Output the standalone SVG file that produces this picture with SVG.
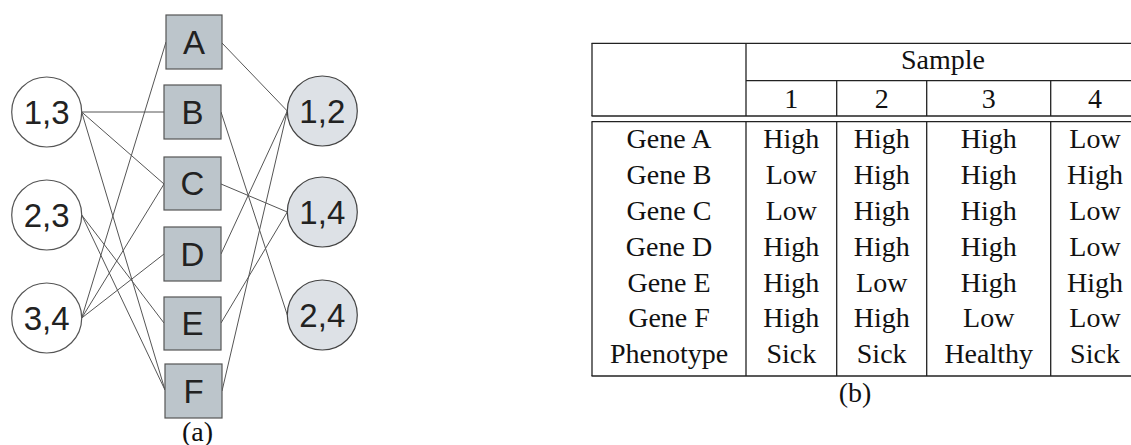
<svg xmlns="http://www.w3.org/2000/svg" width="1131" height="445" viewBox="0 0 1131 445">
<style>
.box{fill:#bcc5cb;stroke:#555;stroke-width:1.2}
.lc{fill:#fff;stroke:#555;stroke-width:1.2}
.rc{fill:#dde1e6;stroke:#444;stroke-width:1.2}
.gt{font-family:"Liberation Sans",Arial,sans-serif;font-size:33px;fill:#222;text-anchor:middle}
.edge{stroke:#555;stroke-width:1;fill:none}
.tl{stroke:#222;stroke-width:1.3;fill:none}
.tt{font-family:"Liberation Serif","Times New Roman",serif;font-size:28px;fill:#111;text-anchor:middle}
</style>
<rect width="1131" height="445" fill="#fff"/>
<g id="connectors">
<line class="edge" x1="81.7" y1="112" x2="164" y2="112"/>
<line class="edge" x1="81.7" y1="112" x2="164" y2="184"/>
<line class="edge" x1="81.7" y1="112" x2="165" y2="390"/>
<line class="edge" x1="81.7" y1="215" x2="164" y2="323"/>
<line class="edge" x1="81.7" y1="215" x2="165" y2="390"/>
<line class="edge" x1="81.7" y1="318" x2="166" y2="42"/>
<line class="edge" x1="81.7" y1="318" x2="164" y2="184"/>
<line class="edge" x1="81.7" y1="318" x2="164" y2="254"/>
<line class="edge" x1="222" y1="43" x2="287.3" y2="111"/>
<line class="edge" x1="221" y1="112" x2="287.3" y2="315"/>
<line class="edge" x1="221" y1="184" x2="287.3" y2="212"/>
<line class="edge" x1="221" y1="254" x2="287.3" y2="111"/>
<line class="edge" x1="221" y1="323" x2="287.3" y2="212"/>
<line class="edge" x1="222" y1="391" x2="287.3" y2="111"/>
</g>
<g id="n13"><circle class="lc" cx="46.7" cy="112" r="35"/><text class="gt" x="46.7" y="124">1,3</text></g>
<g id="n23"><circle class="lc" cx="46.7" cy="215" r="35"/><text class="gt" x="46.7" y="227">2,3</text></g>
<g id="n34"><circle class="lc" cx="46.7" cy="318" r="35"/><text class="gt" x="46.7" y="330">3,4</text></g>
<g id="gA"><rect class="box" x="166" y="15" width="56" height="54"/><text class="gt" x="194" y="54">A</text></g>
<g id="gB"><rect class="box" x="164" y="85" width="57" height="54"/><text class="gt" x="192.5" y="124">B</text></g>
<g id="gC"><rect class="box" x="164" y="157" width="57" height="53"/><text class="gt" x="192.5" y="195">C</text></g>
<g id="gD"><rect class="box" x="164" y="227" width="57" height="54"/><text class="gt" x="192.5" y="266">D</text></g>
<g id="gE"><rect class="box" x="164" y="297" width="57" height="53"/><text class="gt" x="192.5" y="335">E</text></g>
<g id="gF"><rect class="box" x="165" y="364" width="57" height="54"/><text class="gt" x="193.5" y="403">F</text></g>
<g id="n12"><circle class="rc" cx="322.3" cy="111" r="35"/><text class="gt" x="322.3" y="123">1,2</text></g>
<g id="n14"><circle class="rc" cx="322.3" cy="212" r="35"/><text class="gt" x="322.3" y="224">1,4</text></g>
<g id="n24"><circle class="rc" cx="322.3" cy="315" r="35"/><text class="gt" x="322.3" y="327">2,4</text></g>
<text class="tt" x="197.5" y="441">(a)</text>
<g id="table">
<line class="tl" x1="591.5" y1="43.3" x2="1131" y2="43.3"/>
<line class="tl" x1="746" y1="80.7" x2="1131" y2="80.7"/>
<line class="tl" x1="591.5" y1="116" x2="1131" y2="116"/>
<line class="tl" x1="591.5" y1="121.7" x2="1131" y2="121.7"/>
<line class="tl" x1="591.5" y1="376" x2="1131" y2="376"/>
<line class="tl" x1="592" y1="43.3" x2="592" y2="116"/>
<line class="tl" x1="592" y1="121.7" x2="592" y2="376"/>
<line class="tl" x1="746" y1="43.3" x2="746" y2="116"/>
<line class="tl" x1="746" y1="121.7" x2="746" y2="376"/>
<line class="tl" x1="836.7" y1="80.7" x2="836.7" y2="116"/>
<line class="tl" x1="836.7" y1="121.7" x2="836.7" y2="376"/>
<line class="tl" x1="926.7" y1="80.7" x2="926.7" y2="116"/>
<line class="tl" x1="926.7" y1="121.7" x2="926.7" y2="376"/>
<line class="tl" x1="1050.7" y1="80.7" x2="1050.7" y2="116"/>
<line class="tl" x1="1050.7" y1="121.7" x2="1050.7" y2="376"/>
<text class="tt" x="943" y="69.3">Sample</text>
<text class="tt" x="791.3" y="108.3">1</text>
<text class="tt" x="881.7" y="108.3">2</text>
<text class="tt" x="988.7" y="108.3">3</text>
<text class="tt" x="1095" y="108.3">4</text>
<g>
<text class="tt" x="669" y="148.3">Gene A</text><text class="tt" x="791.3" y="148.3">High</text><text class="tt" x="881.7" y="148.3">High</text><text class="tt" x="988.7" y="148.3">High</text><text class="tt" x="1095" y="148.3">Low</text>
<text class="tt" x="669" y="184.1">Gene B</text><text class="tt" x="791.3" y="184.1">Low</text><text class="tt" x="881.7" y="184.1">High</text><text class="tt" x="988.7" y="184.1">High</text><text class="tt" x="1095" y="184.1">High</text>
<text class="tt" x="669" y="219.9">Gene C</text><text class="tt" x="791.3" y="219.9">Low</text><text class="tt" x="881.7" y="219.9">High</text><text class="tt" x="988.7" y="219.9">High</text><text class="tt" x="1095" y="219.9">Low</text>
<text class="tt" x="669" y="255.7">Gene D</text><text class="tt" x="791.3" y="255.7">High</text><text class="tt" x="881.7" y="255.7">High</text><text class="tt" x="988.7" y="255.7">High</text><text class="tt" x="1095" y="255.7">Low</text>
<text class="tt" x="669" y="291.5">Gene E</text><text class="tt" x="791.3" y="291.5">High</text><text class="tt" x="881.7" y="291.5">Low</text><text class="tt" x="988.7" y="291.5">High</text><text class="tt" x="1095" y="291.5">High</text>
<text class="tt" x="669" y="327.3">Gene F</text><text class="tt" x="791.3" y="327.3">High</text><text class="tt" x="881.7" y="327.3">High</text><text class="tt" x="988.7" y="327.3">Low</text><text class="tt" x="1095" y="327.3">Low</text>
<text class="tt" x="669" y="363.1">Phenotype</text><text class="tt" x="791.3" y="363.1">Sick</text><text class="tt" x="881.7" y="363.1">Sick</text><text class="tt" x="988.7" y="363.1">Healthy</text><text class="tt" x="1095" y="363.1">Sick</text>
</g>
<text class="tt" x="855" y="402">(b)</text>
</g>
</svg>
